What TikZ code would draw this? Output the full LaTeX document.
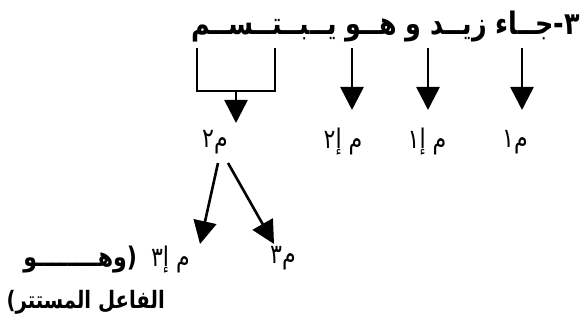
\documentclass[tikz,border=0pt]{standalone}
\usepackage{fontspec}
\TeXXeTstate=1
\newfontfamily\arabicfont[Script=Arabic,FakeStretch=0.82]{DejaVu Sans}
\usetikzlibrary{arrows.meta}

\newlength{\du}
\setlength{\du}{1pt}

\tikzset{
  arr/.style={line width=2.6\du,-{Triangle[width=23pt,length=23pt]}},
  brk/.style={line width=2.6\du},
  lbl/.style={inner sep=0pt,font=\arabicfont\fontsize{27}{30}\selectfont},
  big/.style={inner sep=0pt,font=\arabicfont\bfseries\fontsize{31}{34}\selectfont}
}

\begin{document}
\begin{tikzpicture}
\pgftransformyscale{-1.000000}
\useasboundingbox (0\du,0\du) rectangle (583\du,326\du);
% sentence
\node[big,anchor=base east] (title) at (580\du,35\du) {\beginR ٣-جــاء زيــد و هــو يــبــتــســم\endR};
% labels
\node[lbl] (m1) at (515\du,142\du) {\beginR م١\endR};
\node[lbl] (mi1) at (427\du,142\du) {\beginR م إ١\endR};
\node[lbl] (mi2) at (343\du,142\du) {\beginR م إ٢\endR};
\node[lbl] (m2) at (215\du,142\du) {\beginR م٢\endR};
\node[lbl] (m3) at (283\du,258\du) {\beginR م٣\endR};
\node[lbl,anchor=base east] (mi3) at (190\du,266\du) {\beginR م إ٣\hspace{14pt}{\bfseries\fontsize{27}{30}\selectfont (وهــــــــو}\endR};
\node[big,anchor=base east,font=\arabicfont\bfseries\fontsize{24}{28}\selectfont] (fa) at (165\du,308\du) {\beginR الفاعل المستتر)\endR};
% arrow ends
\coordinate (t1) at (522\du,48\du);
\coordinate (e1) at (522\du,110\du);
\coordinate (t2) at (428\du,48\du);
\coordinate (e2) at (428\du,110\du);
\coordinate (t3) at (352\du,48\du);
\coordinate (e3) at (352\du,110\du);
\coordinate (b1) at (197\du,48\du);
\coordinate (b2) at (197\du,91\du);
\coordinate (b3) at (275\du,91\du);
\coordinate (b4) at (275\du,48\du);
\coordinate (bm) at (236\du,91\du);
\coordinate (e4) at (236\du,123\du);
\coordinate (s1) at (218\du,163\du);
\coordinate (s2) at (228\du,163\du);
\coordinate (e5) at (200\du,244\du);
\coordinate (e6) at (274\du,244\du);
\draw[arr] (t1)--(e1);
\draw[arr] (t2)--(e2);
\draw[arr] (t3)--(e3);
\draw[brk] (b1)--(b2)--(b3)--(b4);
\draw[arr] (bm)--(e4);
\draw[arr] (s1)--(e5);
\draw[arr] (s2)--(e6);
\end{tikzpicture}
\end{document}
